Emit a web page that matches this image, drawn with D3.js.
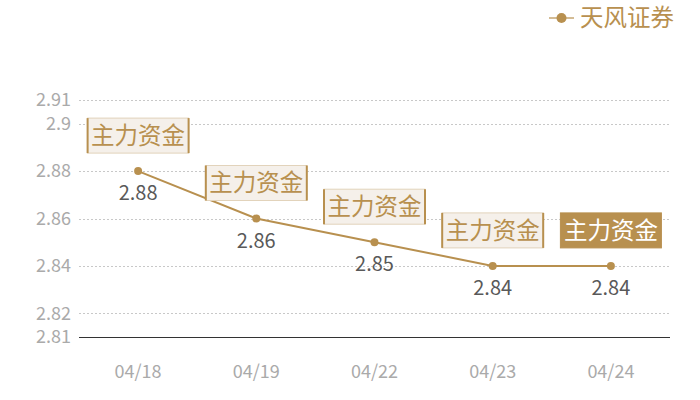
<!DOCTYPE html>
<html>
<head>
<meta charset="utf-8">
<title>天风证券</title>
<script src="https://cdn.jsdelivr.net/npm/d3@7/dist/d3.min.js"></script>
<style>
  body { margin: 0; background: #fff; }
  text { font-family: "Noto Sans CJK SC", "Noto Sans", sans-serif; }
</style>
</head>
<body>
<div id="chart"></div>
<script>
// data
const dates = ['04/18', '04/19', '04/22', '04/23', '04/24'];
const values = [2.88, 2.86, 2.85, 2.84, 2.84];
const tagText = '主力资金';
const yTicks = [2.81, 2.82, 2.84, 2.86, 2.88, 2.9, 2.91];
const seriesName = '天风证券';

const gold = '#b8904f';
const width = 700, height = 400;
const margin = { top: 100, right: 30, bottom: 63, left: 79 };

const svg = d3.select('#chart').append('svg')
    .attr('width', width)
    .attr('height', height);

const x = d3.scaleBand()
    .domain(dates)
    .range([margin.left, width - margin.right]);

const y = d3.scaleLinear()
    .domain([2.81, 2.91])
    .range([height - margin.bottom, margin.top]);

const cx = d => x(d) + x.bandwidth() / 2;

// grid
svg.append('g')
  .selectAll('line')
  .data(yTicks.filter(t => t !== 2.81))
  .join('line')
    .attr('x1', margin.left)
    .attr('x2', width - margin.right)
    .attr('y1', d => Math.round(y(d)) + 0.5)
    .attr('y2', d => Math.round(y(d)) + 0.5)
    .attr('stroke', '#c8c8c8')
    .attr('stroke-dasharray', '2,2');

// y axis labels
svg.append('g')
  .selectAll('text')
  .data(yTicks)
  .join('text')
    .attr('x', margin.left - 8)
    .attr('y', d => y(d))
    .attr('dy', '0.35em')
    .attr('text-anchor', 'end')
    .attr('fill', '#aaaaaa')
    .style('font-size', '18px')
    .text(d => d);

// baseline
svg.append('line')
    .attr('x1', margin.left)
    .attr('x2', width - margin.right)
    .attr('y1', Math.round(y(2.81)) + 0.5)
    .attr('y2', Math.round(y(2.81)) + 0.5)
    .attr('stroke', '#333')
    .attr('stroke-width', 1);

// x labels
svg.append('g')
  .selectAll('text')
  .data(dates)
  .join('text')
    .attr('x', d => cx(d))
    .attr('y', 372)
    .attr('dy', '0.35em')
    .attr('text-anchor', 'middle')
    .attr('fill', '#aaaaaa')
    .style('font-size', '18px')
    .text(d => d);

// line
const line = d3.line()
    .x((d, i) => cx(dates[i]))
    .y(d => y(d));

svg.append('path')
    .datum(values)
    .attr('d', line)
    .attr('fill', 'none')
    .attr('stroke', gold)
    .attr('stroke-width', 2);

svg.append('g')
  .selectAll('circle')
  .data(values)
  .join('circle')
    .attr('cx', (d, i) => cx(dates[i]))
    .attr('cy', d => y(d))
    .attr('r', 4)
    .attr('fill', gold);

// value labels
svg.append('g')
  .selectAll('text')
  .data(values)
  .join('text')
    .attr('x', (d, i) => cx(dates[i]))
    .attr('y', d => y(d) + 22)
    .attr('dy', '0.35em')
    .attr('text-anchor', 'middle')
    .attr('fill', '#595959')
    .style('font-size', '20px')
    .text(d => d);

// tag boxes
const boxW = 101, boxH = 35;
const tags = svg.append('g')
  .selectAll('g')
  .data(values)
  .join('g')
    .attr('transform', (d, i) => `translate(${cx(dates[i]) - boxW / 2},${y(d) - 18 - boxH})`);

tags.append('rect')
    .attr('width', boxW)
    .attr('height', boxH)
    .attr('fill', (d, i) => i === values.length - 1 ? gold : '#f5f0ea')
    .attr('stroke', (d, i) => i === values.length - 1 ? gold : '#e2d3bb')
    .attr('stroke-width', 1);

tags.filter((d, i) => i !== values.length - 1)
  .selectAll('line')
  .data([0, boxW])
  .join('line')
    .attr('x1', d => d)
    .attr('x2', d => d)
    .attr('y1', 0)
    .attr('y2', boxH)
    .attr('stroke', gold)
    .attr('stroke-width', 2);

tags.append('text')
    .attr('x', boxW / 2)
    .attr('y', boxH / 2)
    .attr('dy', '0.36em')
    .attr('text-anchor', 'middle')
    .attr('fill', (d, i) => i === values.length - 1 ? '#fff' : gold)
    .style('font-size', '23.5px')
    .text(tagText);

// legend
const legend = svg.append('g').attr('transform', 'translate(549,18)');
legend.append('line')
    .attr('x1', 0).attr('x2', 25)
    .attr('stroke', gold).attr('stroke-opacity', 0.6).attr('stroke-width', 2);
legend.append('circle')
    .attr('cx', 12.5).attr('r', 5).attr('fill', gold);
legend.append('text')
    .attr('x', 31)
    .attr('dy', '0.35em')
    .attr('fill', gold)
    .style('font-size', '23.5px')
    .text(seriesName);
</script>
</body>
</html>
